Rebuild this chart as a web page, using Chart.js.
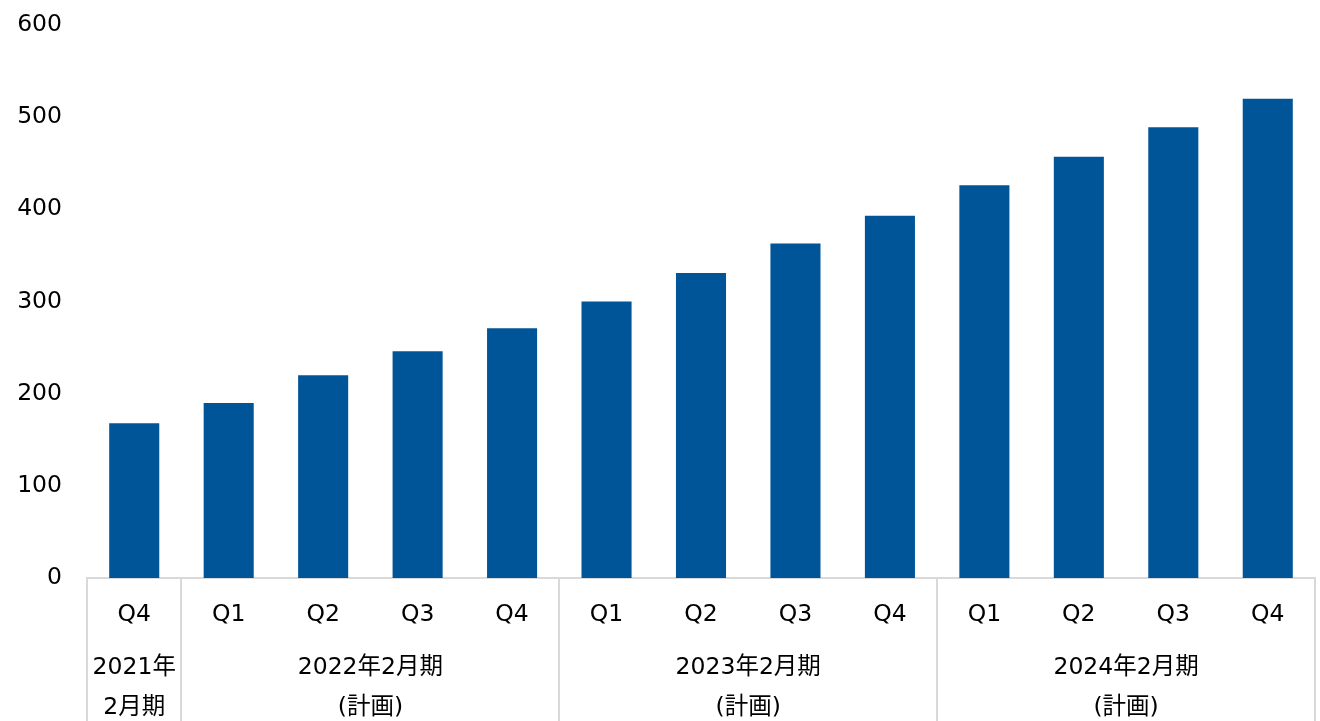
<!DOCTYPE html>
<html><head><meta charset="utf-8">
<script src="https://cdn.jsdelivr.net/npm/chart.js@4"></script>
<style>html,body{margin:0;padding:0;background:#fff;}#wrap{width:1320px;height:721px;}</style>
</head><body><div id="wrap"><canvas id="c"></canvas></div>
<script>
const quarters = ["Q4","Q1","Q2","Q3","Q4","Q1","Q2","Q3","Q4","Q1","Q2","Q3","Q4"];
const values = [168,190,220,246,271,300,331,363,393,426,457,489,520];
const groupLabels = [["2021年","2月期"],["2022年2月期","(計画)"],["2023年2月期","(計画)"],["2024年2月期","(計画)"]];
const groupStarts = [0,1,5,9];
const groupEnds = [0,4,8,12];
const yTicks = [0,100,200,300,400,500,600];

const FONT = "'DejaVu Sans','Noto Sans CJK JP',sans-serif";
const groupPlugin = {
  id:'groups',
  afterDraw(chart){
    const ctx = chart.ctx, x = chart.scales.x, area = chart.chartArea;
    const half = (x.getPixelForValue(1)-x.getPixelForValue(0))/2;
    ctx.save();
    ctx.strokeStyle = '#d9d9d9'; ctx.lineWidth = 2;
    const bounds = [x.getPixelForValue(0)-half];
    groupEnds.forEach(e=>bounds.push(x.getPixelForValue(e)+half));
    bounds.forEach(b=>{ctx.beginPath();ctx.moveTo(Math.round(b),area.bottom);ctx.lineTo(Math.round(b),chart.height);ctx.stroke();});
    ctx.fillStyle='#000'; ctx.font = '23.5px '+FONT; ctx.textAlign='center'; ctx.textBaseline='middle';
    groupLabels.forEach((lines,i)=>{
      const cx = (x.getPixelForValue(groupStarts[i])+x.getPixelForValue(groupEnds[i]))/2;
      lines.forEach((t,j)=>ctx.fillText(t,cx,668+j*40));
    });
    ctx.restore();
  }
};

new Chart(document.getElementById('c'),{
  type:'bar',
  data:{labels:quarters,datasets:[{data:values,backgroundColor:'#005598',borderWidth:0,categoryPercentage:1,barPercentage:0.53}]},
  options:{
    responsive:true,maintainAspectRatio:false,animation:false,
    layout:{padding:{top:25,right:5,left:0,bottom:0}},
    plugins:{legend:{display:false},tooltip:{enabled:false}},
    scales:{
      x:{grid:{display:false,drawTicks:false},border:{display:true,color:'#d9d9d9',width:2},
         ticks:{color:'#000',font:{size:23.5,family:FONT},padding:23,maxRotation:0,autoSkip:false},
         afterFit(s){s.height=143;}},
      y:{min:0,max:600,grid:{display:false,drawTicks:false},border:{display:false},
         afterBuildTicks(s){s.ticks=yTicks.map(v=>({value:v}));},
         ticks:{color:'#000',font:{size:23.5,family:FONT},padding:25},
         afterFit(s){s.width=87;s.paddingTop=0;s.paddingBottom=0;}}
    }
  },
  plugins:[groupPlugin]
});
</script></body></html>
